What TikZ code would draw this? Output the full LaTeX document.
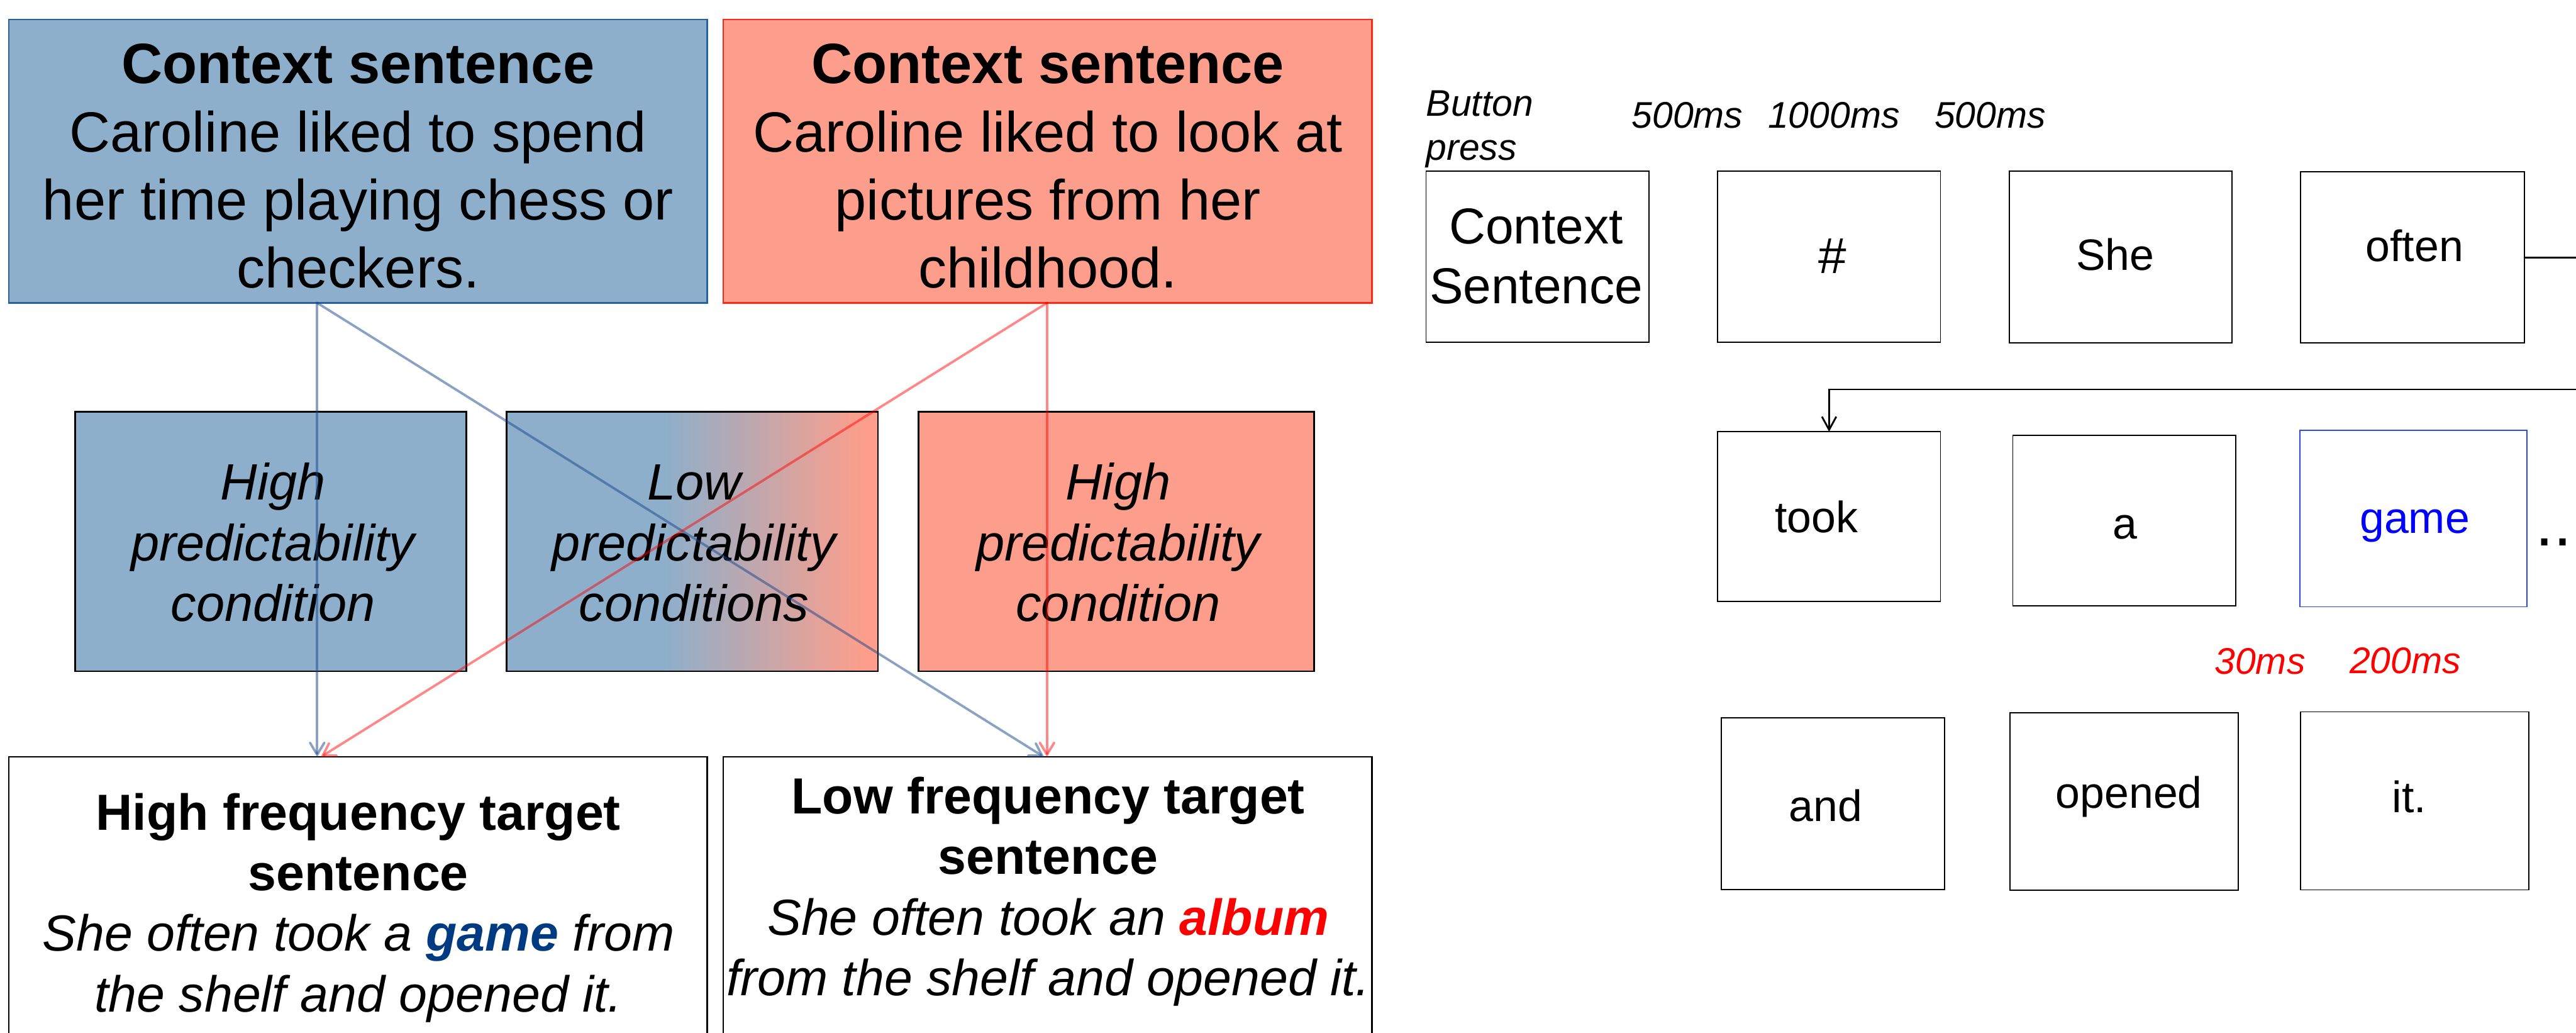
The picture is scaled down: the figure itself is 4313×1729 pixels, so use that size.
\documentclass[tikz,border=0pt]{standalone}
\usepackage{fontspec}
\setmainfont{Liberation Sans}
\usetikzlibrary{arrows.meta,calc}

\definecolor{ctxblue}{RGB}{141,175,203}
\definecolor{ctxred}{RGB}{252,158,139}
\definecolor{ctxblueline}{RGB}{40,96,160}
\definecolor{ctxredline}{RGB}{255,40,20}
\definecolor{linkblue}{RGB}{25,70,140}
\definecolor{gamedark}{RGB}{0,58,128}
\definecolor{gamebright}{RGB}{0,0,255}
\definecolor{gameframe}{RGB}{40,70,255}

% blue on the left, fading into salmon towards the right edge
\pgfdeclarehorizontalshading{mixshade}{100bp}{color(0bp)=(ctxblue); color(46bp)=(ctxblue); color(73bp)=(ctxred); color(100bp)=(ctxred)}

\begin{document}
\begin{tikzpicture}[x=0.1pt,y=-0.1pt,
  every node/.style={inner sep=0pt,outer sep=0pt},
  ctxbox/.style={draw, line width=0.25pt, minimum height=47.4pt},
  condbox/.style={draw=black, line width=0.3pt, minimum height=43.45pt},
  tgtbox/.style={draw=black, line width=0.25pt, minimum height=53.3pt, minimum width=116.9pt},
  wordbox/.style={draw=black, line width=0.2pt, minimum width=37.3pt, minimum height=28.7pt},
  ctxtext/.style={align=center, anchor=north, font=\fontsize{9.5}{11.4}\selectfont},
  condtext/.style={align=center, anchor=north, font=\fontsize{8.55}{10.15}\selectfont\itshape},
  tgttext/.style={align=center, anchor=north, font=\fontsize{8.5}{10.15}\selectfont},
  wordtext/.style={anchor=base, font=\fontsize{7.35}{8.8}\selectfont},
  bigword/.style={font=\fontsize{8.45}{10.1}\selectfont},
  timetext/.style={anchor=base west, font=\fontsize{6.2}{7.4}\selectfont\itshape},
  link/.style={line width=0.4pt, line cap=round, line join=round,
               -{Straight Barb[length=2pt,width=2.4pt,line cap=round]}},
  flow/.style={line width=0.3pt, line join=miter,
               -{Straight Barb[length=2.2pt,width=2.4pt]}}
]
\useasboundingbox (0,0) rectangle (4313,1729);

% ---------- context sentences ----------
\node[ctxbox, fill=ctxblue, draw=ctxblueline, minimum width=116.9pt] (ctxA) at (599.5,270) {};
\node[ctxtext] (ctxAtxt) at (599.5,60.2)
  {\textbf{Context sentence}\strut\\Caroline liked to spend\strut\\her time playing chess or\strut\\checkers.\strut};
\node[ctxbox, fill=ctxred, draw=ctxredline, minimum width=108.6pt] (ctxB) at (1754,270) {};
\node[ctxtext] (ctxBtxt) at (1754.5,60.2)
  {\textbf{Context sentence}\strut\\Caroline liked to look at\strut\\pictures from her\strut\\childhood.\strut};

% ---------- predictability conditions ----------
\node[condbox, fill=ctxblue, minimum width=65.5pt] (condA) at (453.5,906.25) {};
\node[condtext] (condAtxt) at (457,766) {High\strut\\predictability\strut\\condition\strut};
\node[condbox, shading=mixshade, minimum width=62.2pt] (condB) at (1159,906.25) {};
\node[condtext] (condBtxt) at (1162,766) {Low\strut\\predictability\strut\\conditions\strut};
\node[condbox, fill=ctxred, minimum width=66.2pt] (condC) at (1869,906.25) {};
\node[condtext] (condCtxt) at (1872,766) {High\strut\\predictability\strut\\condition\strut};

% ---------- target sentences ----------
\node[tgtbox] (botA) at (599.5,1533.5) {};
\node[tgttext] (botAtxt) at (600,1318)
  {\textbf{High frequency target}\strut\\\textbf{sentence}\strut\\
   \textit{She often took a \textbf{\color{gamedark}game} from}\strut\\
   \textit{the shelf and opened it.}\strut};
\node[tgtbox, minimum width=108.6pt] (botB) at (1754,1533.5) {};
\node[tgttext] (botBtxt) at (1755,1291)
  {\textbf{Low frequency target}\strut\\\textbf{sentence}\strut\\
   \textit{She often took an \textbf{\color{red}album}}\strut\\
   \textit{from the shelf and opened it.}\strut};

% ---------- links from contexts to targets ----------
\coordinate (bsrc) at ([xshift=-6.85pt]ctxA.south);
\coordinate (rsrc) at ([xshift=-0.1pt]ctxB.south);
\coordinate (bdstA) at ([xshift=-6.85pt]botA.north);
\coordinate (rdstA) at ([xshift=-6.25pt]botA.north);
\coordinate (bdstB) at ([xshift=-0.6pt]botB.north);
\coordinate (rdstB) at ([xshift=-0.1pt]botB.north);
\draw[link, draw=linkblue, opacity=0.5] (bsrc) -- (bdstA);
\draw[link, draw=linkblue, opacity=0.5] (bsrc) -- (bdstB);
\draw[link, draw=red, opacity=0.47] (rsrc) -- (rdstB);
\draw[link, draw=red, opacity=0.47] (rsrc) -- (rdstA);

% ---------- trial sequence: timing labels ----------
\node[align=left, anchor=north west, font=\fontsize{6.2}{7.4}\selectfont\itshape] (tPress) at (2388,142.2)
  {Button\strut\\press\strut};
\node[timetext] (t500a) at (2732,214) {500ms};
\node[timetext] (t1000) at (2960,214) {1000ms};
\node[timetext] (t500b) at (3239,214) {500ms};
\node[timetext, text=red] (t30) at (3708,1128) {30ms};
\node[timetext, text=red] (t200) at (3934,1127) {200ms};

% ---------- trial sequence: frames ----------
\node[wordbox] (fCtx) at (2574.1,429.5) {};
\node[bigword, align=center, anchor=north] (fCtxTxt) at (2572,336.9) {Context\strut\\Sentence\strut};
\node[wordbox] (fHash) at (3062.4,429.5) {};
\node[bigword, anchor=base] (fHashTxt) at (3068,458) {\#};
\node[wordbox] (fShe) at (3550.5,430.3) {};
\node[wordtext] (fSheTxt) at (3541.5,452.6) {She};
\node[wordbox, minimum width=37.5pt] (fOften) at (4039.5,430.8) {};
\node[wordtext] (fOftenTxt) at (4042.5,437.5) {often};

\node[wordbox, minimum height=28.45pt] (fTook) at (3062.4,864.8) {};
\node[wordtext] (fTookTxt) at (3041.5,891) {took};
\node[wordbox, minimum height=28.54pt] (fA) at (3556.5,871.1) {};
\node[wordtext] (fATxt) at (3558,902) {a};
\node[wordbox, draw=gameframe, minimum width=38pt, minimum height=29.5pt] (fGame) at (4041,868.1) {};
\node[wordtext, text=gamebright] (fGameTxt) at (4043,892) {game};
\node[anchor=base west, font=\fontsize{11}{13}\selectfont] (fDots) at (4245,913) {..};

\node[wordbox, minimum width=37.4pt, minimum height=28.77pt] (fAnd) at (3069,1344.9) {};
\node[wordtext] (fAndTxt) at (3056.6,1375) {and};
\node[wordbox, minimum width=38.2pt, minimum height=29.78pt] (fOpened) at (3556,1341.5) {};
\node[wordtext] (fOpenedTxt) at (3564.5,1352.5) {opened};
\node[wordbox, minimum width=38.2pt, minimum height=29.8pt] (fIt) at (4043,1340.5) {};
\node[wordtext] (fItTxt) at (4034,1359.6) {it.};

% the sequence wraps from the end of the first row to the second row
\coordinate (wrapA) at ([xshift=12pt]fOften.east);
\coordinate (wrapB) at ([yshift=7.08pt]fTook.north);
\draw[flow] (fOften.east) -- (wrapA) |- (wrapB) -- (fTook.north);
\end{tikzpicture}
\end{document}
